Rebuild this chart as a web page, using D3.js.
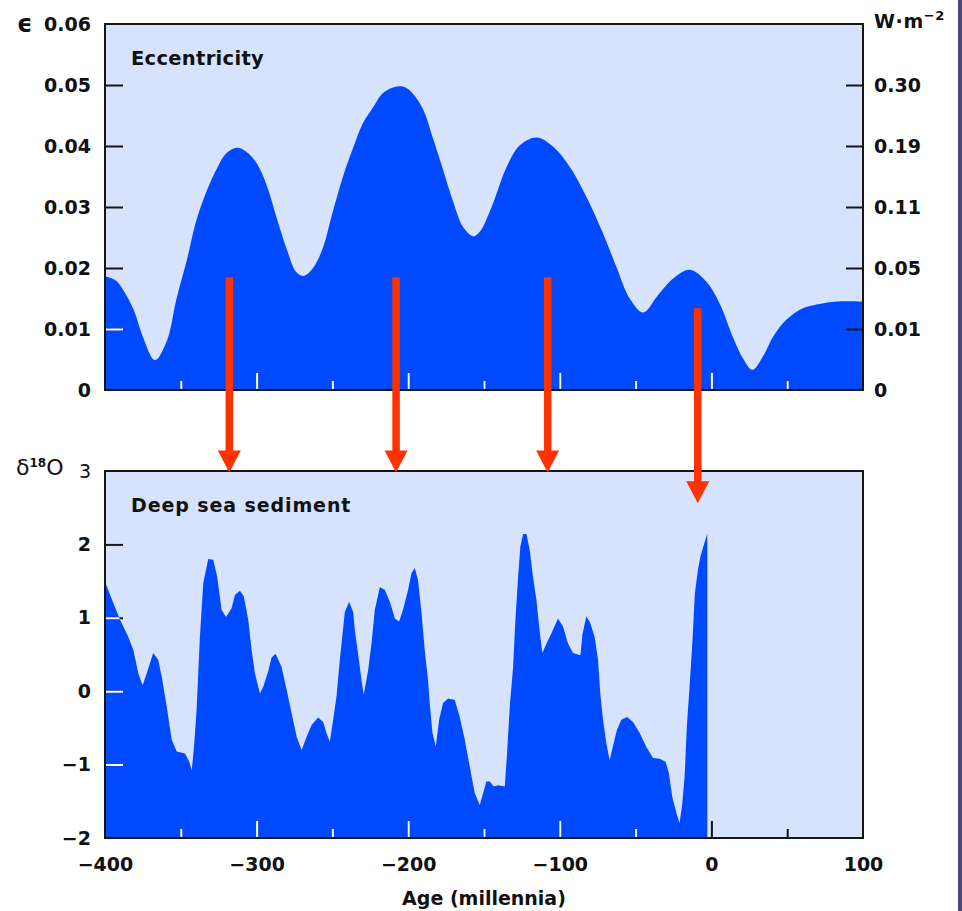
<!DOCTYPE html>
<html>
<head>
<meta charset="utf-8">
<script src="https://cdn.jsdelivr.net/npm/d3@7"></script>
<style>
  html, body { margin: 0; padding: 0; background: #ffffff; }
  svg { display: block; }
  text { font-family: "DejaVu Sans", sans-serif; fill: #111; }
</style>
</head>
<body>
<div id="chart"></div>
<script>
// Orbital eccentricity over the last 400 kyr and 100 kyr ahead
const eccAge = [-400, -393, -388, -381, -375, -367, -359, -353, -346, -340, -333, -326, -320, -313,
  -307, -300, -293, -287, -280, -274, -269, -263, -256, -250, -243, -236, -230, -223, -217, -210,
  -203, -197, -190, -184, -177, -170, -164, -157, -152, -148, -144, -135, -126, -115, -104.5, -93.5,
  -82.5, -71.5, -62.7, -53.9, -45, -36, -25, -14.4, -3.4, 5.4, 14.2, 20.8, 27, 34, 40.6, 49.4, 60.3,
  71.3, 82.3, 100];
const eccentricity = [0.0186, 0.0180, 0.0164, 0.0131, 0.0087, 0.0049, 0.0082, 0.0148, 0.0213, 0.0276,
  0.0326, 0.0364, 0.0388, 0.0397, 0.0391, 0.0372, 0.0333, 0.0284, 0.0230, 0.0194, 0.0187, 0.0199,
  0.0235, 0.0290, 0.0350, 0.0399, 0.0437, 0.0464, 0.0486, 0.0496, 0.0497, 0.0486, 0.0459, 0.0415,
  0.0361, 0.0306, 0.0268, 0.0252, 0.0262, 0.0282, 0.0306, 0.0366, 0.0402, 0.0414, 0.0399, 0.0366,
  0.0317, 0.0257, 0.0202, 0.0150, 0.0127, 0.0153, 0.0183, 0.0197, 0.0178, 0.0142, 0.0087, 0.0052,
  0.0033, 0.0055, 0.0087, 0.0115, 0.0134, 0.0141, 0.0145, 0.0145];

// Deep sea sediment oxygen isotope record
const sedAge = [-400, -394.5, -390, -384.6, -381.3, -378, -375.2, -372.5, -368.2, -364.9, -362.6,
  -359.3, -356, -352.7, -347.3, -344.4, -342.8, -341.3, -339.6, -338.5, -337.4, -335.2, -331.9,
  -328.6, -326, -323.1, -320.2, -316.5, -314.3, -311, -308.4, -305.5, -303.3, -301.1, -297.8,
  -295.6, -292.4, -290.1, -287.5, -283.5, -280.2, -276.9, -273.6, -270.3, -267, -263.7, -259.4,
  -256.1, -253.9, -251.7, -249.5, -247.3, -245.1, -241.8, -239, -236.3, -235.2, -233, -230.8,
  -229.3, -226.4, -224.2, -222, -218.7, -215.4, -212.1, -208.8, -206, -203.4, -200.1, -197.8,
  -195.6, -193.5, -191.2, -189.1, -186.9, -185.8, -184, -181.8, -179.6, -177, -173.7, -169.3,
  -166, -162.7, -159.4, -156.1, -152.8, -150.6, -148.4, -146.2, -143.6, -140.7, -136.3, -134.8,
  -133, -130.8, -129.3, -127.5, -126, -124.2, -122, -119.8, -117.7, -115.4, -113.2, -111.5,
  -108.8, -105.5, -101.2, -97.9, -94.6, -91.3, -86.4, -85.1, -82.5, -79.9, -77, -74.8, -73.3,
  -71.5, -69.3, -67.1, -64.5, -62.3, -59.4, -55.7, -51.7, -47.3, -42.9, -38.5, -34.1, -30.2,
  -28, -25.8, -23.1, -21, -19.2, -17.7, -16.2, -14.4, -12.6, -10.9, -8.9, -7.3, -5.6, -4, -2.7];
const d18O = [1.49, 1.20, 0.97, 0.74, 0.56, 0.24, 0.08, 0.24, 0.52, 0.43, 0.20,
  -0.21, -0.66, -0.82, -0.85, -0.96, -1.08, -0.76, -0.26, 0.24, 0.74, 1.47, 1.80,
  1.79, 1.56, 1.11, 1.01, 1.13, 1.31, 1.37, 1.29, 0.97, 0.56, 0.24, -0.03,
  0.06, 0.27, 0.46, 0.51, 0.33, 0.02, -0.30, -0.62, -0.80, -0.62, -0.46, -0.36,
  -0.42, -0.57, -0.69, -0.39, -0.07, 0.43, 1.08, 1.22, 1.08, 0.83, 0.50, 0.15,
  -0.05, 0.29, 0.65, 1.11, 1.42, 1.38, 1.22, 0.99, 0.95, 1.11, 1.38, 1.61,
  1.68, 1.51, 1.06, 0.56, 0.15, -0.16, -0.57, -0.75, -0.39, -0.16, -0.10, -0.12,
  -0.35, -0.66, -1.03, -1.39, -1.55, -1.39, -1.23, -1.23, -1.30, -1.28, -1.30, -0.85,
  -0.21, 0.33, 0.97, 1.56, 1.97, 2.14, 2.14, 1.92, 1.56, 1.24, 0.80, 0.52,
  0.65, 0.79, 0.99, 0.88, 0.65, 0.52, 0.49, 0.77, 1.02, 0.93, 0.74, 0.43, -0.03,
  -0.39, -0.71, -0.94, -0.71, -0.53, -0.39, -0.35, -0.42, -0.57, -0.76, -0.91, -0.92, -0.96,
  -1.12, -1.44, -1.66, -1.80, -1.53, -1.17, -0.48, 0.06, 0.65, 1.33, 1.65, 1.83, 1.95, 2.06, 2.14];

// Axis ticks and labels
const ageTicks = [-400, -350, -300, -250, -200, -150, -100, -50, 0, 50, 100];
const ageLabelTicks = [-400, -300, -200, -100, 0, 100];
const eccTicks = [0, 0.01, 0.02, 0.03, 0.04, 0.05, 0.06];
const eccLabels = ["0", "0.01", "0.02", "0.03", "0.04", "0.05", "0.06"];
const forcingTicks = [0, 0.01, 0.02, 0.03, 0.04, 0.05];
const forcingLabels = ["0", "0.01", "0.05", "0.11", "0.19", "0.30"];
const sedTicks = [-2, -1, 0, 1, 2, 3];
const sedLabels = ["\u22122", "\u22121", "0", "1", "2", "3"];

// Arrows linking eccentricity maxima to glacial terminations
const arrowAge = [-318, -208, -108, -9];
const arrowFromEcc = [0.0185, 0.0185, 0.0185, 0.0134];
const arrowToD18O = [2.98, 2.98, 2.98, 2.56];

const W = 962, H = 911;
const left = 105, right = 863;
const blue = "#0049ff", pale = "#d7e3fd", red = "#ff3300", ink = "#151515";

const svg = d3.select("#chart").append("svg").attr("width", W).attr("height", H);
const defs = svg.append("defs");

const x = d3.scaleLinear().domain([-400, 100]).range([left, right]);
const yEcc = d3.scaleLinear().domain([0, 0.06]).range([390, 24]);
const ySed = d3.scaleLinear().domain([-2, 3]).range([838, 471]);

const fmtMinus = d => (d < 0 ? "\u2212" + Math.abs(d) : String(d));

// right-hand frame stripe
svg.append("rect").attr("x", 958).attr("y", 0).attr("width", 4).attr("height", H).attr("fill", "#4b4b78");

function panel(id, yScale, ages, values, curve) {
  const g = svg.append("g").attr("class", id);
  const [y0, y1] = yScale.range();
  g.append("rect").attr("x", left).attr("y", y1).attr("width", right - left).attr("height", y0 - y1)
    .attr("fill", pale);
  const pts = ages.map((a, i) => [a, values[i]]);
  const area = d3.area().x(d => x(d[0])).y0(y0).y1(d => yScale(d[1])).curve(curve);
  const pathD = area(pts);
  g.append("path").attr("d", pathD).attr("fill", blue);
  defs.append("clipPath").attr("id", id + "-clip").append("path").attr("d", pathD);
  return { g, y0, y1, clip: id + "-clip" };
}

function styleTicks(sel, color) {
  sel.select(".domain").remove();
  sel.selectAll(".tick line").attr("stroke", color).attr("stroke-width", 2);
}

function labelFont(sel) {
  sel.selectAll("text").attr("font-family", "DejaVu Sans").attr("font-weight", "bold")
    .attr("font-size", 19).attr("fill", ink);
}

// Ticks are dark over the pale background and white where they cross the filled curve.
function tickLayer(p, clip) {
  const outer = p.g.append("g");
  if (clip) outer.attr("clip-path", `url(#${p.clip})`);
  return outer;
}

function xTicks(p, withLabels) {
  [[ink, false], ["#ffffff", true]].forEach(([color, clip]) => {
    const ax = d3.axisBottom(x).tickValues(ageTicks).tickSize(-17).tickPadding(20)
      .tickFormat(d => (withLabels && !clip && ageLabelTicks.includes(d) ? fmtMinus(d) : ""));
    const a = tickLayer(p, clip).append("g").attr("transform", `translate(0,${p.y0})`).call(ax);
    styleTicks(a, color);
    a.selectAll(".tick line").attr("y2", d => (d % 100 === 0 ? -17 : -9));
    a.selectAll(".tick").filter(d => d === -400 || d === 100).select("line").remove();
    labelFont(a);
  });
}

function yLeftTicks(p, scale, ticks, labels, ends) {
  [[ink, false], ["#ffffff", true]].forEach(([color, clip]) => {
    const ax = d3.axisLeft(scale).tickValues(ticks).tickSize(-18).tickPadding(14)
      .tickFormat((d, i) => (clip ? "" : labels[i]));
    const a = tickLayer(p, clip).append("g").attr("transform", `translate(${left},0)`).call(ax);
    styleTicks(a, color);
    a.selectAll(".tick").filter(d => ends.includes(d)).select("line").remove();
    labelFont(a);
  });
}

// ---- upper panel: eccentricity ----
const eccPanel = panel("ecc", yEcc, eccAge, eccentricity, d3.curveCatmullRom.alpha(0.5));
yLeftTicks(eccPanel, yEcc, eccTicks, eccLabels, [0, 0.06]);
{
  const ax = d3.axisRight(yEcc).tickValues(forcingTicks).tickSize(-17).tickPadding(11)
    .tickFormat((d, i) => forcingLabels[i]);
  const a = eccPanel.g.append("g").attr("transform", `translate(${right},0)`).call(ax);
  styleTicks(a, ink);
  a.selectAll(".tick").filter(d => d === 0).select("line").remove();
  labelFont(a);
}
xTicks(eccPanel, false);

eccPanel.g.append("rect").attr("x", left).attr("y", eccPanel.y1).attr("width", right - left)
  .attr("height", eccPanel.y0 - eccPanel.y1).attr("fill", "none").attr("stroke", ink).attr("stroke-width", 2);

eccPanel.g.append("text").attr("x", 131).attr("y", 65).attr("font-weight", "bold").attr("font-size", 19.5)
  .attr("letter-spacing", 0.3).text("Eccentricity");
eccPanel.g.append("text").attr("x", 17).attr("y", 32).attr("font-weight", "bold").attr("font-size", 24)
  .text("\u03F5");
{
  const t = eccPanel.g.append("text").attr("x", 874).attr("y", 28).attr("font-weight", "bold").attr("font-size", 19)
    .attr("letter-spacing", 0.6);
  t.append("tspan").text("W\u00B7m");
  t.append("tspan").attr("font-size", 13).attr("dy", -8).text("\u22122");
}

// ---- lower panel: deep sea sediment ----
const sedPanel = panel("sed", ySed, sedAge, d18O, d3.curveLinear);
yLeftTicks(sedPanel, ySed, sedTicks, sedLabels, [-2, 3]);
sedPanel.g.selectAll(".tick").filter(d => d === 3).select("text").attr("font-weight", "normal");
xTicks(sedPanel, true);

sedPanel.g.append("rect").attr("x", left).attr("y", sedPanel.y1).attr("width", right - left)
  .attr("height", sedPanel.y0 - sedPanel.y1).attr("fill", "none").attr("stroke", ink).attr("stroke-width", 2);

sedPanel.g.append("text").attr("x", 131).attr("y", 512).attr("font-weight", "bold").attr("font-size", 19)
  .attr("letter-spacing", 0.9).text("Deep sea sediment");
{
  const t = sedPanel.g.append("text").attr("x", 16).attr("y", 475).attr("font-size", 22);
  t.append("tspan").text("\u03B4");
  t.append("tspan").attr("font-size", 12).attr("font-weight", "bold").attr("dy", -8).text("18");
  t.append("tspan").attr("dy", 8).text("O");
}
svg.append("text").attr("x", (left + right) / 2).attr("y", 905).attr("text-anchor", "middle")
  .attr("font-weight", "bold").attr("font-size", 19).text("Age (millennia)");

// ---- arrows ----
const arrows = svg.append("g").attr("class", "arrows");
arrowAge.forEach((a, i) => {
  const ax = x(a);
  const yStart = yEcc(arrowFromEcc[i]);
  const yTip = ySed(arrowToD18O[i]);
  const headH = 22, headW = 23;
  arrows.append("line").attr("x1", ax).attr("x2", ax).attr("y1", yStart).attr("y2", yTip - headH + 1)
    .attr("stroke", red).attr("stroke-width", 7.5);
  arrows.append("path")
    .attr("d", `M${ax - headW / 2},${yTip - headH} L${ax + headW / 2},${yTip - headH} L${ax},${yTip} Z`)
    .attr("fill", red);
});
</script>
</body>
</html>
